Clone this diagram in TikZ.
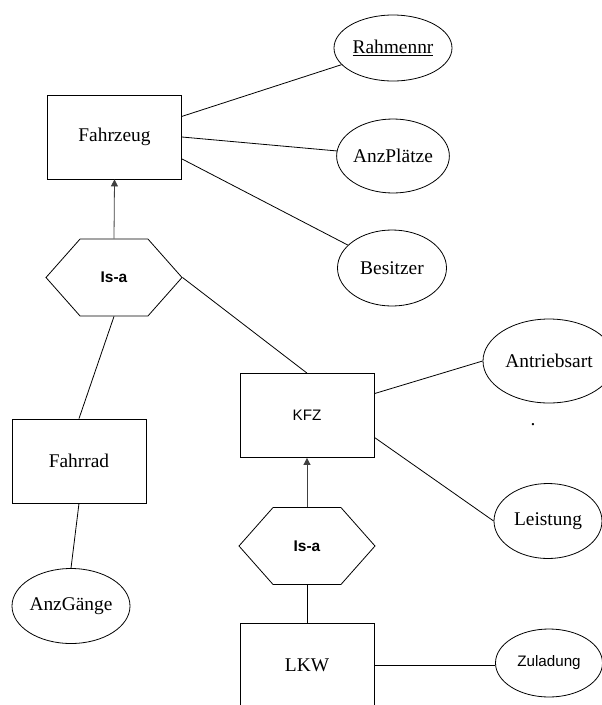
\documentclass[tikz,border=0pt]{standalone}
\usepackage{fontspec}
\setmainfont{Liberation Serif}
\newfontfamily\arialfont{Liberation Sans}
\usetikzlibrary{arrows.meta,shapes.geometric,shapes.symbols}

\begin{document}
\begin{tikzpicture}[x=1pt,y=-1pt,line width=0.8pt,
    entity/.style={draw,rectangle,minimum width=134pt,minimum height=84pt,
      font=\fontsize{19.4}{23}\selectfont},
    attr/.style={draw,ellipse,inner sep=0pt,font=\fontsize{19.4}{23}\selectfont},
    isa/.style={draw,signal,signal to=east and west,signal pointer angle=97,
      minimum width=136pt,minimum height=77pt,inner sep=0pt,
      font=\arialfont\bfseries\fontsize{15.5}{18}\selectfont},
    gen/.style={draw=black!75,-{Triangle[length=7pt,width=7pt]}}]
  \useasboundingbox (0,0) rectangle (602,705);
  % Entitaeten
  \node[entity] (fahrzeug) at (114.5,137) {Fahrzeug};
  \node[entity] (fahrrad) at (79,461) {Fahrrad};
  \node[entity,font=\arialfont\fontsize{15.2}{18}\selectfont] (kfz) at (307,415.5) {KFZ};
  \node[entity] (lkw) at (307,665) {LKW};
  % Attribute
  \node[attr,minimum width=118pt,minimum height=66pt] (rahmennr) at (393,48) {\underline{Rahmennr}};
  \node[attr,minimum width=108pt,minimum height=74pt] (anzplaetze) at (393,156) {AnzPlätze};
  \node[attr,minimum width=109pt,minimum height=76pt] (besitzer) at (392,268) {Besitzer};
  \node[attr,minimum width=132pt,minimum height=84pt] (antriebsart) at (549,361) {Antriebsart};
  \node[attr,minimum width=108pt,minimum height=75pt] (leistung) at (548,521) {Leistung};
  \node[attr,minimum width=118pt,minimum height=75pt] (anzgaenge) at (71,606) {AnzGänge};
  \node[attr,minimum width=107pt,minimum height=68pt,font=\arialfont\fontsize{15.2}{18}\selectfont] (zuladung) at (549,663) {Zuladung};
  \node[font=\fontsize{19.4}{23}\selectfont,inner sep=0pt] (punkt) at (533,425) {.};
  % Generalisierung
  \node[isa] (isa1) at (114,277.5) {Is-a};
  \node[isa] (isa2) at (307,546) {Is-a};
  \draw[gen] (isa1.north) -- (fahrzeug.south);
  \draw[gen] (isa2.north) -- (kfz.south);
  \draw (isa1.south) -- (fahrrad.north);
  \draw (isa1.east) -- (kfz.north);
  \draw (isa2.south) -- (lkw.north);
  \draw (lkw.east) -- (lkw.east -| zuladung.west);
  \foreach \von/\nach in {fahrzeug.17/rahmennr,fahrzeug.east/anzplaetze,
      fahrzeug.-18/besitzer,kfz.18/antriebsart.west,kfz.-18/leistung.west,
      fahrrad.south/anzgaenge.north}
    \draw (\von) -- (\nach);
\end{tikzpicture}
\end{document}
